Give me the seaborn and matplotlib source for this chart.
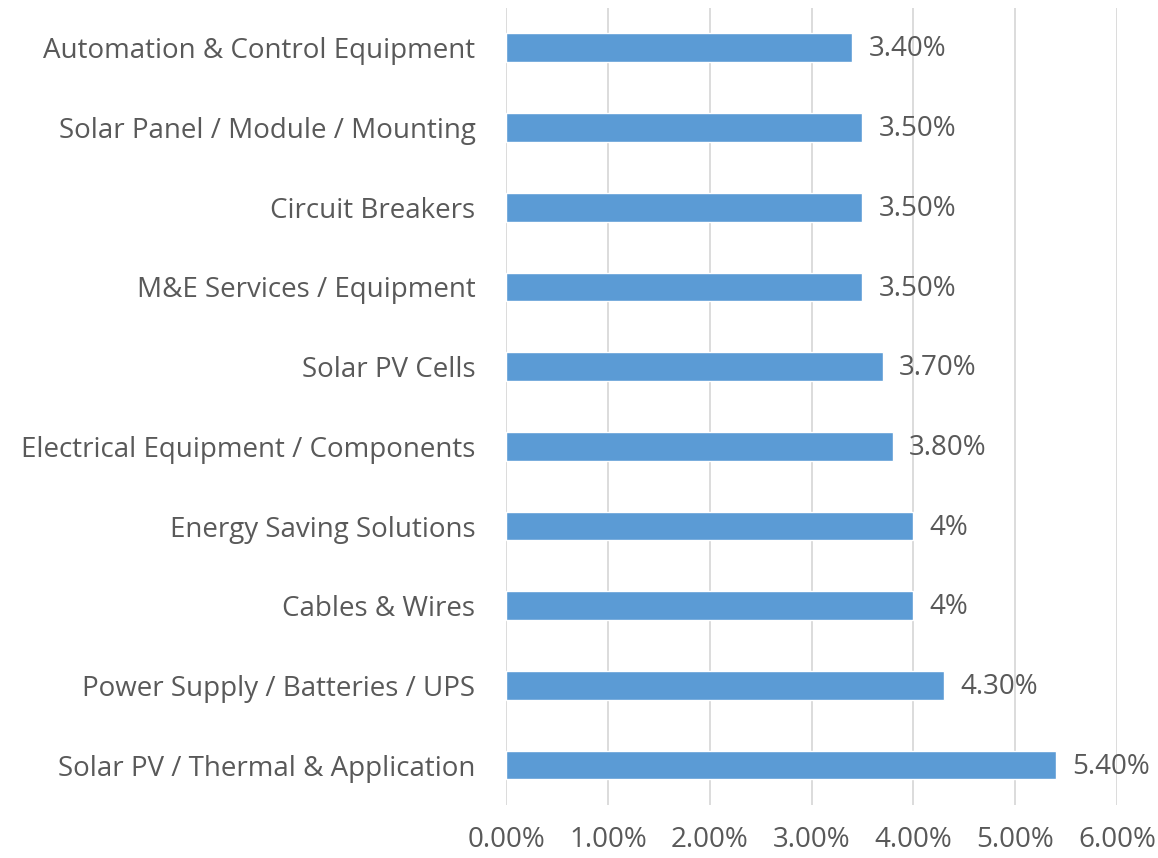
import numpy as np
import pandas as pd
import seaborn as sns
import matplotlib.pyplot as plt

categories = ["Automation & Control Equipment", "Solar Panel / Module / Mounting",
              "Circuit Breakers", "M&E Services / Equipment", "Solar PV Cells",
              "Electrical Equipment / Components", "Energy Saving Solutions",
              "Cables & Wires", "Power Supply / Batteries / UPS",
              "Solar PV / Thermal & Application"]
values = [3.4, 3.5, 3.5, 3.5, 3.7, 3.8, 4.0, 4.0, 4.3, 5.4]
value_labels = ["3.40%", "3.50%", "3.50%", "3.50%", "3.70%", "3.80%", "4%", "4%", "4.30%", "5.40%"]
x_ticks = [0, 1, 2, 3, 4, 5, 6]
x_tick_labels = ["0.00%", "1.00%", "2.00%", "3.00%", "4.00%", "5.00%", "6.00%"]

df = pd.DataFrame({"category": categories, "value": values})

sns.set_style("white")
plt.rcParams['font.family'] = ['Open Sans', 'DejaVu Sans']
text_color = "#595959"

fig = plt.figure(figsize=(11.58, 8.58), dpi=100)
ax = fig.add_axes([0.437, 0.0618, 0.5276, 0.9289])

sns.barplot(data=df, x="value", y="category", color="#5B9BD5", width=0.36,
            saturation=1, ax=ax, zorder=3)

# data labels to the right of the bars
for i, (v, lab) in enumerate(zip(values, value_labels)):
    ax.text(v + 0.16, i + 0.02, lab, va="center", ha="left", fontsize=20, color=text_color)

ax.set_xlim(0, 6)
ax.set_ylim(len(categories) - 0.5, -0.5)
ax.set_xticks(x_ticks)
ax.set_xticklabels(x_tick_labels)
ax.grid(axis="x", color="#D9D9D9", linewidth=1.3, zorder=0)
ax.grid(axis="y", visible=False)
for s in ax.spines.values():
    s.set_visible(False)
ax.tick_params(axis="x", length=0, pad=15, labelsize=20, labelcolor=text_color)
ax.tick_params(axis="y", length=0, pad=22, labelsize=20, labelcolor=text_color)
ax.set_xlabel("")
ax.set_ylabel("")

fig.savefig("out.png", dpi=100)
